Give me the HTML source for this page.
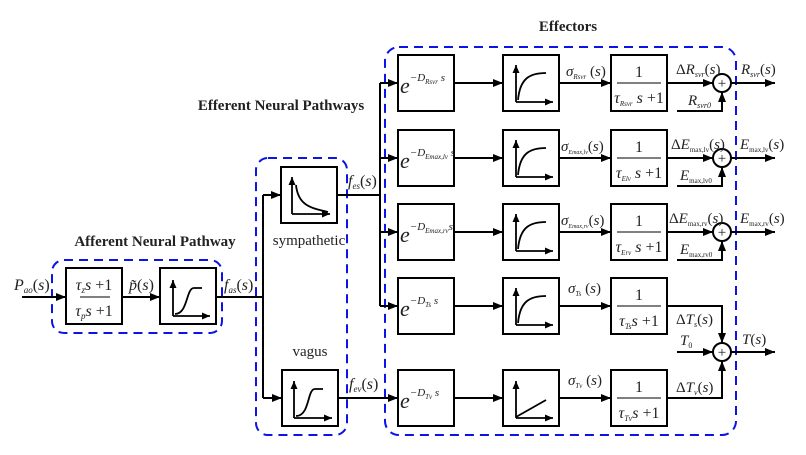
<!DOCTYPE html>
<html><head><meta charset="utf-8"><style>
html,body{margin:0;padding:0;background:#fff}
svg{display:block}
text{font-family:"Liberation Serif",serif;fill:#222}
.i{font-style:italic}
.b{font-weight:bold;font-size:15px}
</style></head><body>
<svg width="806" height="455" viewBox="0 0 806 455" xmlns="http://www.w3.org/2000/svg">
<defs>
<marker id="a" markerWidth="10" markerHeight="8" refX="10" refY="4" orient="auto" markerUnits="userSpaceOnUse"><path d="M0,0L10,4L0,8z" fill="#000"/></marker>
<marker id="s" markerWidth="8" markerHeight="7" refX="8" refY="3.5" orient="auto" markerUnits="userSpaceOnUse"><path d="M0,0L8,3.5L0,7z" fill="#000"/></marker>
</defs>
<g fill="none" stroke="#0a14e6" stroke-width="2" stroke-dasharray="9,6">
<rect x="52" y="260" width="170" height="73" rx="12"/>
<rect x="256" y="158" width="91" height="277" rx="12"/>
<rect x="385" y="47" width="351" height="388" rx="14"/>
</g>
<text class="b" x="155" y="246" text-anchor="middle">Afferent Neural Pathway</text>
<text class="b" x="281" y="110" text-anchor="middle">Efferent Neural Pathways</text>
<text class="b" x="568" y="31" text-anchor="middle">Effectors</text>

<g stroke="#000" stroke-width="2" fill="none">
<rect x="66" y="268" width="56" height="56"/>
<rect x="160" y="268" width="56" height="56"/>
<line x1="22" y1="297" x2="66" y2="297" marker-end="url(#a)"/>
<line x1="122" y1="297" x2="160" y2="297" marker-end="url(#a)"/>
<polyline points="216,297 263,297"/>
<polyline points="263,195 263,398"/>
<line x1="263" y1="195" x2="281" y2="195" marker-end="url(#a)"/>
<line x1="263" y1="398" x2="282" y2="398" marker-end="url(#a)"/>
<rect x="281" y="167" width="56" height="56"/>
<rect x="282" y="370" width="56" height="56"/>
<polyline points="337,195 380,195"/>
<line x1="380" y1="83" x2="380" y2="306"/>
<line x1="338" y1="398" x2="398" y2="398" marker-end="url(#a)"/>
<line x1="80" y1="297" x2="110" y2="297" stroke-width="1"/>
</g>
<g stroke="#000" stroke-width="1.8" fill="none">
<line x1="173" y1="316" x2="173" y2="280" marker-end="url(#s)"/><line x1="173" y1="316" x2="210" y2="316" marker-end="url(#s)"/>
<path d="M175,314 C188,314 186,288 194,288 L202,288"/>
<line x1="292" y1="214" x2="292" y2="177" marker-end="url(#s)"/><line x1="292" y1="214" x2="330" y2="214" marker-end="url(#s)"/>
<path d="M296,185 C298,205 310,208 328,212"/>
<line x1="294" y1="418" x2="294" y2="381" marker-end="url(#s)"/><line x1="294" y1="418" x2="332" y2="418" marker-end="url(#s)"/>
<path d="M296,416 C310,416 307,389 315,389 L323,389"/>
</g>

<g stroke="#000" stroke-width="2" fill="none">
<rect x="398" y="55" width="56" height="56"/><rect x="503" y="55" width="56" height="56"/><rect x="611" y="55" width="56" height="56"/>
<rect x="398" y="130" width="56" height="56"/><rect x="503" y="130" width="56" height="56"/><rect x="611" y="130" width="56" height="56"/>
<rect x="398" y="204" width="56" height="56"/><rect x="503" y="204" width="56" height="56"/><rect x="611" y="204" width="56" height="56"/>
<rect x="398" y="278" width="56" height="56"/><rect x="503" y="278" width="56" height="56"/><rect x="611" y="278" width="56" height="56"/>
<rect x="398" y="370" width="56" height="56"/><rect x="503" y="370" width="56" height="56"/><rect x="611" y="370" width="56" height="56"/>
<line x1="380" y1="83" x2="398" y2="83" marker-end="url(#a)"/><line x1="380" y1="158" x2="398" y2="158" marker-end="url(#a)"/>
<line x1="380" y1="232" x2="398" y2="232" marker-end="url(#a)"/><line x1="380" y1="306" x2="398" y2="306" marker-end="url(#a)"/>
<line x1="454" y1="83" x2="503" y2="83" marker-end="url(#a)"/><line x1="559" y1="83" x2="611" y2="83" marker-end="url(#a)"/>
<line x1="454" y1="158" x2="503" y2="158" marker-end="url(#a)"/><line x1="559" y1="158" x2="611" y2="158" marker-end="url(#a)"/>
<line x1="454" y1="232" x2="503" y2="232" marker-end="url(#a)"/><line x1="559" y1="232" x2="611" y2="232" marker-end="url(#a)"/>
<line x1="454" y1="306" x2="503" y2="306" marker-end="url(#a)"/><line x1="559" y1="306" x2="611" y2="306" marker-end="url(#a)"/>
<line x1="454" y1="398" x2="503" y2="398" marker-end="url(#a)"/><line x1="559" y1="398" x2="611" y2="398" marker-end="url(#a)"/>
<circle cx="722" cy="83" r="9"/><circle cx="722" cy="158" r="9"/><circle cx="722" cy="232" r="9"/><circle cx="722" cy="352" r="9"/>
<line x1="667" y1="83" x2="713" y2="83" marker-end="url(#a)"/><line x1="667" y1="158" x2="713" y2="158" marker-end="url(#a)"/><line x1="667" y1="232" x2="713" y2="232" marker-end="url(#a)"/>
<polyline points="677,111 722,111 722,92" marker-end="url(#a)"/>
<polyline points="677,186 722,186 722,167" marker-end="url(#a)"/>
<polyline points="677,260 722,260 722,241" marker-end="url(#a)"/>
<line x1="731" y1="83" x2="775" y2="83" marker-end="url(#a)"/><line x1="731" y1="158" x2="775" y2="158" marker-end="url(#a)"/><line x1="731" y1="232" x2="775" y2="232" marker-end="url(#a)"/>
<polyline points="667,306 722,306 722,343" marker-end="url(#a)"/>
<polyline points="667,398 722,398 722,361" marker-end="url(#a)"/>
<line x1="677" y1="352" x2="713" y2="352" marker-end="url(#a)"/>
<line x1="731" y1="352" x2="775" y2="352" marker-end="url(#a)"/>
<line x1="617" y1="83" x2="661" y2="83" stroke-width="1"/><line x1="617" y1="158" x2="661" y2="158" stroke-width="1"/>
<line x1="617" y1="232" x2="661" y2="232" stroke-width="1"/><line x1="617" y1="306" x2="661" y2="306" stroke-width="1"/>
<line x1="617" y1="398" x2="661" y2="398" stroke-width="1"/>
</g>
<g stroke="#000" stroke-width="1.8" fill="none">
<g id="sat"><line x1="516" y1="102" x2="516" y2="65" marker-end="url(#s)"/><line x1="516" y1="102" x2="553" y2="102" marker-end="url(#s)"/><path d="M518,100 C520,78 530,73 546,73"/></g>
<use href="#sat" y="75"/><use href="#sat" y="149"/><use href="#sat" y="223"/>
<line x1="516" y1="418" x2="516" y2="381" marker-end="url(#s)"/><line x1="516" y1="418" x2="553" y2="418" marker-end="url(#s)"/><line x1="516" y1="417" x2="546" y2="400"/>
</g>
<g font-size="15">
<text x="722" y="88" text-anchor="middle">+</text><text x="722" y="163" text-anchor="middle">+</text>
<text x="722" y="237" text-anchor="middle">+</text><text x="722" y="357" text-anchor="middle">+</text>
</g>

<g font-size="16">
<text x="14" y="290" class="i">P<tspan font-size="9" dy="3">ao</tspan><tspan dy="-3" font-style="normal">(</tspan>s<tspan font-style="normal">)</tspan></text>
<text x="94" y="290" text-anchor="middle" class="i">τ<tspan font-size="9" dy="3">z</tspan><tspan dy="-3">s</tspan><tspan font-style="normal"> +1</tspan></text>
<text x="94" y="316" text-anchor="middle" class="i">τ<tspan font-size="9" dy="3">p</tspan><tspan dy="-3">s</tspan><tspan font-style="normal"> +1</tspan></text>
<text x="129" y="290" class="i">p̃<tspan font-style="normal">(</tspan>s<tspan font-style="normal">)</tspan></text>
<text x="224" y="290" class="i">f<tspan font-size="9" dy="3">as</tspan><tspan dy="-3" font-style="normal">(</tspan>s<tspan font-style="normal">)</tspan></text>
<text x="348" y="186" class="i">f<tspan font-size="9" dy="3">es</tspan><tspan dy="-3" font-style="normal">(</tspan>s<tspan font-style="normal">)</tspan></text>
<text x="349" y="389" class="i">f<tspan font-size="9" dy="3">ev</tspan><tspan dy="-3" font-style="normal">(</tspan>s<tspan font-style="normal">)</tspan></text>
<text x="309" y="245" text-anchor="middle" font-size="15">sympathetic</text>
<text x="310" y="356" text-anchor="middle" font-size="15">vagus</text>

<text x="400" y="93" font-size="22" class="i">e<tspan font-size="11" dy="-12">−D</tspan><tspan font-size="7" dy="3">Rsvr</tspan><tspan font-size="11" dy="-3"> s</tspan></text>
<text x="400" y="168" font-size="22" class="i">e<tspan font-size="11" dy="-12">−D</tspan><tspan font-size="7" dy="3">Emax,lv</tspan><tspan font-size="11" dy="-3"> s</tspan></text>
<text x="400" y="242" font-size="22" class="i">e<tspan font-size="11" dy="-12">−D</tspan><tspan font-size="7" dy="3">Emax,rv</tspan><tspan font-size="11" dy="-3">s</tspan></text>
<text x="400" y="316" font-size="22" class="i">e<tspan font-size="11" dy="-12">−D</tspan><tspan font-size="7" dy="3">Ts</tspan><tspan font-size="11" dy="-3"> s</tspan></text>
<text x="400" y="408" font-size="22" class="i">e<tspan font-size="11" dy="-12">−D</tspan><tspan font-size="7" dy="3">Tv</tspan><tspan font-size="11" dy="-3"> s</tspan></text>

<g font-size="15">
<text x="566" y="76" class="i">σ<tspan font-size="7" dy="3">Rsvr</tspan><tspan dy="-3" font-style="normal"> (</tspan>s<tspan font-style="normal">)</tspan></text>
<text x="561" y="151" class="i">σ<tspan font-size="6" dy="3">Emax,lv</tspan><tspan dy="-3" font-style="normal">(</tspan>s<tspan font-style="normal">)</tspan></text>
<text x="561" y="225" class="i">σ<tspan font-size="6" dy="3">Emax,rv</tspan><tspan dy="-3" font-style="normal">(</tspan>s<tspan font-style="normal">)</tspan></text>
<text x="568" y="293" class="i">σ<tspan font-size="7" dy="3">Ts</tspan><tspan dy="-3" font-style="normal"> (</tspan>s<tspan font-style="normal">)</tspan></text>
<text x="568" y="385" class="i">σ<tspan font-size="7" dy="3">Tv</tspan><tspan dy="-3" font-style="normal"> (</tspan>s<tspan font-style="normal">)</tspan></text>
</g>

<g text-anchor="middle">
<text x="639" y="77">1</text><text x="639" y="152">1</text><text x="639" y="226">1</text><text x="639" y="300">1</text><text x="639" y="392">1</text>
<text x="639" y="103" class="i">τ<tspan font-size="7" dy="3">Rsvr</tspan><tspan dy="-3"> s</tspan><tspan font-style="normal"> +1</tspan></text>
<text x="639" y="178" class="i">τ<tspan font-size="7" dy="3">Elv</tspan><tspan dy="-3"> s</tspan><tspan font-style="normal"> +1</tspan></text>
<text x="639" y="252" class="i">τ<tspan font-size="7" dy="3">Erv</tspan><tspan dy="-3"> s</tspan><tspan font-style="normal"> +1</tspan></text>
<text x="639" y="326" class="i">τ<tspan font-size="8" dy="3">Ts</tspan><tspan dy="-3">s</tspan><tspan font-style="normal"> +1</tspan></text>
<text x="639" y="418" class="i">τ<tspan font-size="8" dy="3">Tv</tspan><tspan dy="-3">s</tspan><tspan font-style="normal"> +1</tspan></text>
</g>

<g font-size="15">
<text x="676" y="74" class="i"><tspan font-style="normal">Δ</tspan>R<tspan font-size="8" dy="3">svr</tspan><tspan dy="-3" font-style="normal">(</tspan>s<tspan font-style="normal">)</tspan></text>
<text x="671" y="149" class="i"><tspan font-style="normal">Δ</tspan>E<tspan font-size="7" dy="3" font-style="normal">max,lv</tspan><tspan dy="-3" font-style="normal">(</tspan>s<tspan font-style="normal">)</tspan></text>
<text x="669" y="223" class="i"><tspan font-style="normal">Δ</tspan>E<tspan font-size="7" dy="3" font-style="normal">max,rv</tspan><tspan dy="-3" font-style="normal">(</tspan>s<tspan font-style="normal">)</tspan></text>
<text x="688" y="105" class="i">R<tspan font-size="8" dy="3">svr0</tspan></text>
<text x="680" y="180" class="i">E<tspan font-size="7" dy="3" font-style="normal">max,lv0</tspan></text>
<text x="680" y="254" class="i">E<tspan font-size="7" dy="3" font-style="normal">max,rv0</tspan></text>
<text x="676" y="324" class="i"><tspan font-style="normal">Δ</tspan>T<tspan font-size="8" dy="3">s</tspan><tspan dy="-3" font-style="normal">(</tspan>s<tspan font-style="normal">)</tspan></text>
<text x="676" y="392" class="i"><tspan font-style="normal">Δ</tspan>T<tspan font-size="8" dy="3">v</tspan><tspan dy="-3" font-style="normal">(</tspan>s<tspan font-style="normal">)</tspan></text>
<text x="680" y="345" class="i">T<tspan font-size="8" dy="3" font-style="normal">0</tspan></text>
<text x="741" y="74" class="i">R<tspan font-size="8" dy="3">svr</tspan><tspan dy="-3" font-style="normal">(</tspan>s<tspan font-style="normal">)</tspan></text>
<text x="740" y="149" class="i">E<tspan font-size="7" dy="3" font-style="normal">max,lv</tspan><tspan dy="-3" font-style="normal">(</tspan>s<tspan font-style="normal">)</tspan></text>
<text x="740" y="223" class="i">E<tspan font-size="7" dy="3" font-style="normal">max,rv</tspan><tspan dy="-3" font-style="normal">(</tspan>s<tspan font-style="normal">)</tspan></text>
<text x="742" y="344" class="i">T<tspan font-style="normal">(</tspan>s<tspan font-style="normal">)</tspan></text>
</g>
</g>
</svg>
</body></html>
